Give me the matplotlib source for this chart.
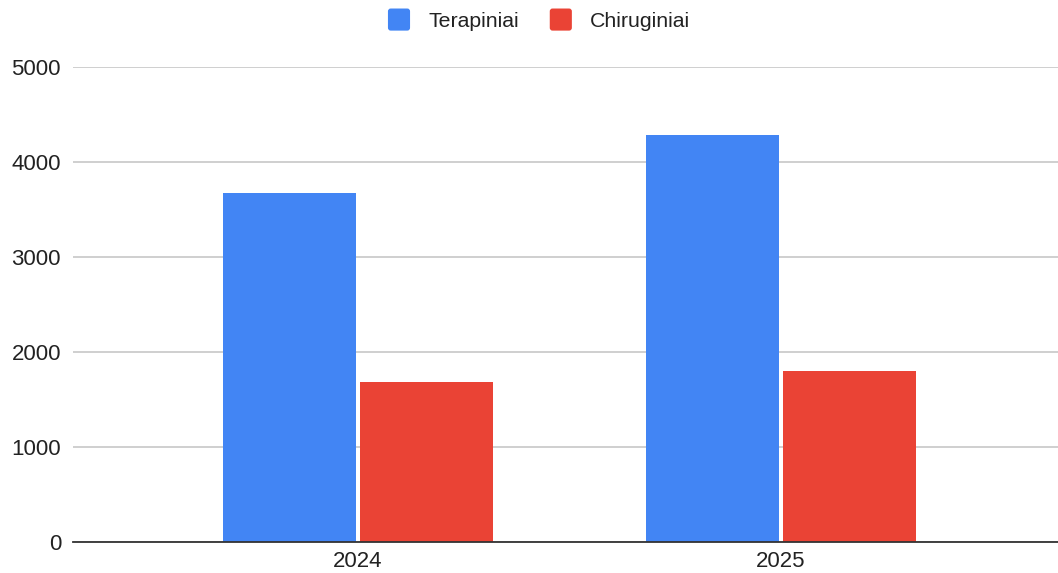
import matplotlib
matplotlib.use("Agg")
import matplotlib.pyplot as plt
import numpy as np
from matplotlib.patches import FancyBboxPatch, Rectangle
from matplotlib.legend_handler import HandlerPatch

categories = ["2024", "2025"]
series_names = ["Terapiniai", "Chiruginiai"]
terapiniai = [3670, 4280]
chiruginiai = [1680, 1800]
yticks = [0, 1000, 2000, 3000, 4000, 5000]
colors = ["#4285f4", "#ea4335"]

plt.rcParams['font.family'] = ['Liberation Sans', 'DejaVu Sans']

fig = plt.figure(figsize=(10.58, 5.73), dpi=100)
ax = fig.add_axes([73/1058, 31/573, 1 - 73/1058 + 6/1058, 475/573])

x = np.arange(len(categories))
w = 0.314
off = 0.1615
b1 = ax.bar(x - off, terapiniai, w, color=colors[0], label=series_names[0], zorder=3)
b2 = ax.bar(x + off, chiruginiai, w, color=colors[1], label=series_names[1], zorder=3)

ax.set_xlim(-285/423, 1 + 283/423)
ax.set_ylim(0, 5000)
ax.set_yticks(yticks)
ax.set_yticklabels([str(v) for v in yticks])
ax.set_xticks(x)
ax.set_xticklabels(categories)
ax.tick_params(axis='both', length=0, labelsize=16, colors='#222222')
ax.tick_params(axis='y', pad=8.6)
ax.tick_params(axis='x', pad=6.5)
ax.grid(axis='y', color='#cccccc', linewidth=1.3, zorder=0)
for s in ['top', 'right', 'left']:
    ax.spines[s].set_visible(False)
ax.spines['bottom'].set_color('#333333')
ax.spines['bottom'].set_linewidth(1.3)
ax.spines['bottom'].set_zorder(4)

class RoundHandler(HandlerPatch):
    def create_artists(self, legend, orig_handle, xdescent, ydescent, width, height, fontsize, trans):
        s = fontsize * 1.04
        cx = -xdescent + width / 2
        cy = -ydescent + height / 2
        p = FancyBboxPatch((cx - s / 2, cy - s / 2), s, s,
                           boxstyle="round,pad=0,rounding_size=2",
                           facecolor=orig_handle.get_facecolor(), edgecolor='none', transform=trans)
        return [p]

leg = fig.legend(handles=[b1.patches[0], b2.patches[0]], labels=series_names,
                 loc='center', bbox_to_anchor=(539/1058, 1 - 21.5/573), ncol=2, frameon=False,
                 fontsize=15.3, handlelength=1.04, handletextpad=0.85,
                 columnspacing=1.46, borderpad=0, borderaxespad=0,
                 handler_map={Rectangle: RoundHandler()})
for t in leg.get_texts():
    t.set_color('#222222')

fig.savefig("out.png", dpi=100)
